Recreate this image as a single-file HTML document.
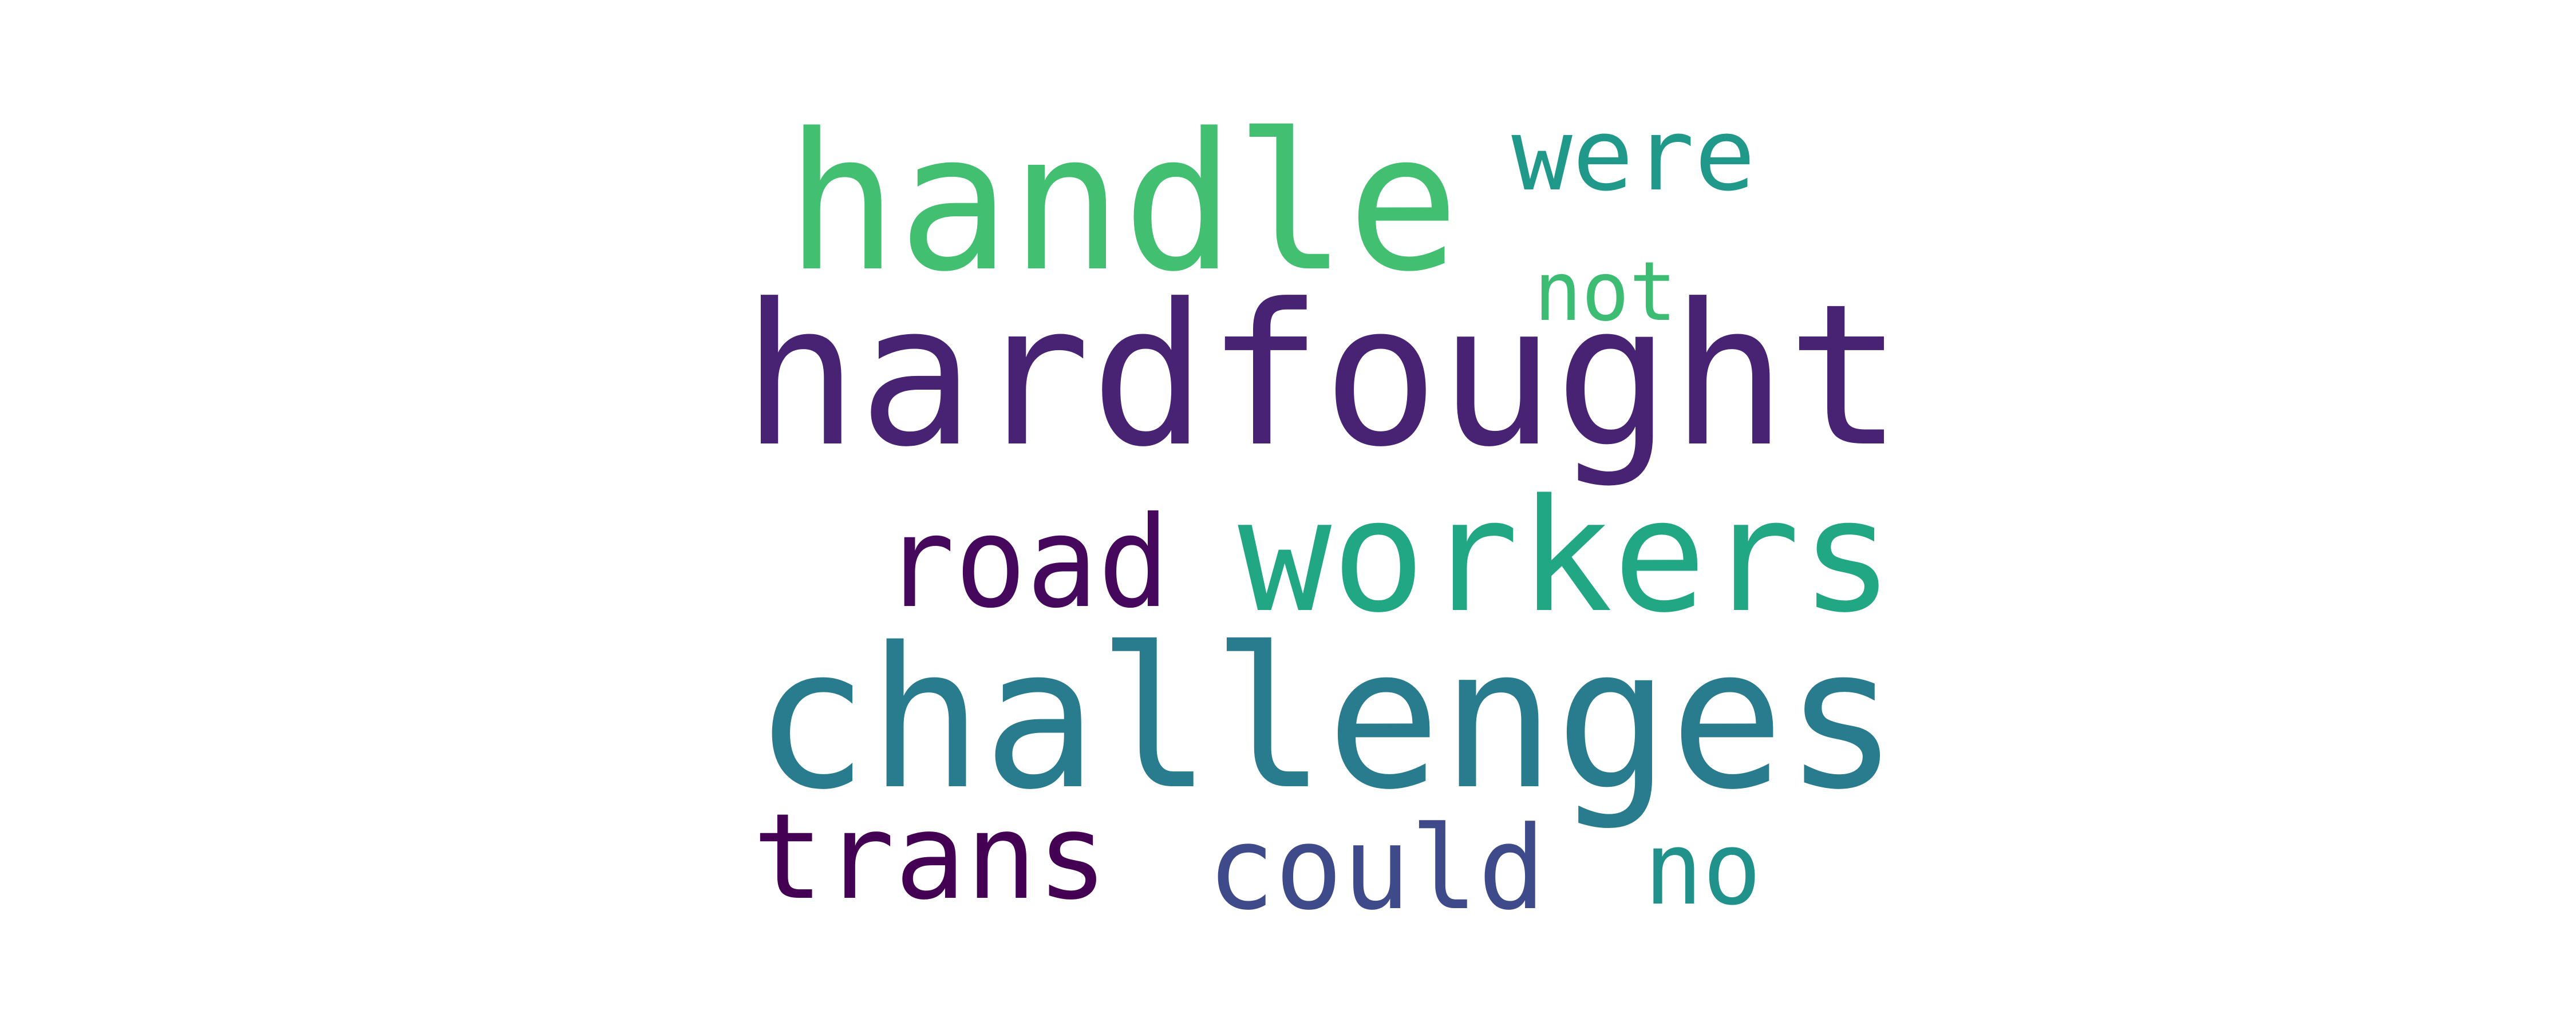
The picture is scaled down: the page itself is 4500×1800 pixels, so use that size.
<!DOCTYPE html>
<html>
<head>
<meta charset="utf-8">
<style>
  html, body { margin: 0; padding: 0; background: #ffffff; }
  svg { display: block; }
  text { font-family: "DejaVu Sans Mono", "Liberation Mono", monospace; }
</style>
</head>
<body>
<svg id="cloud" xmlns="http://www.w3.org/2000/svg" width="4500" height="1800" viewBox="0 0 4500 1800">
  <rect x="0" y="0" width="4500" height="1800" fill="#ffffff"/>
</svg>
<script>
const words = ["handle", "hardfought", "were", "not", "road", "workers", "challenges", "trans", "could", "no"];
const fontSizes = [331, 342, 174, 143, 220, 272, 340, 207, 201, 176];
const colors = ["#43bf71", "#482374", "#21998a", "#3dbc74", "#46085c", "#22a785", "#287c8e", "#440154", "#3e4a89", "#21918c"];
const inkLeft = [1389, 1314, 2649, 2687, 1554, 2176, 1334, 1325, 2119, 2881];
const inkRight = [2533, 3307, 3058, 2922, 2032, 3295, 3300, 1925, 2690, 3068];
const baselines = [469, 775, 331, 559, 1059, 1066, 1374, 1569, 1587, 1579];

const svg = document.getElementById('cloud');
const NS = 'http://www.w3.org/2000/svg';
for (let i = 0; i < words.length; i++) {
  const fs = fontSizes[i];
  const pad = 0.05 * fs;
  const t = document.createElementNS(NS, 'text');
  t.setAttribute('x', inkLeft[i] - pad);
  t.setAttribute('y', baselines[i]);
  t.setAttribute('font-size', fs);
  t.setAttribute('fill', colors[i]);
  t.setAttribute('textLength', (inkRight[i] - inkLeft[i]) + 2 * pad);
  t.setAttribute('lengthAdjust', 'spacingAndGlyphs');
  
  
  t.textContent = words[i];
  svg.appendChild(t);
}
</script>
</body>
</html>
